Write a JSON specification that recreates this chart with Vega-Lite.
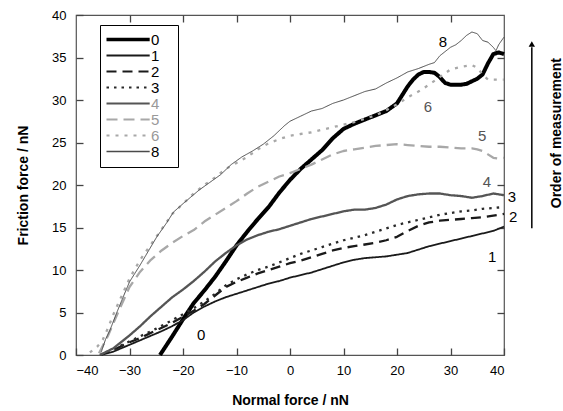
{
  "$schema": "https://vega.github.io/schema/vega-lite/v6.json",
  "width": 428,
  "height": 340,
  "autosize": "none",
  "padding": {"left": 76, "top": 15, "right": 59, "bottom": 56},
  "background": "white",
  "config": {
    "font": "Liberation Sans",
    "view": {"stroke": "#555", "strokeWidth": 1.2},
    "axis": {"grid": false, "domain": false, "ticks": true, "tickColor": "#444", "tickWidth": 1.3, "tickSize": 7, "offset": -7, "labelColor": "black", "labelFontSize": 13, "titleFontSize": 14, "titleFontWeight": "bold", "titleColor": "black"}
  },
  "datasets": {
    "curves": [
      {"s":"0","x":-24.3,"y":0},{"s":"0","x":-22,"y":2.2},{"s":"0","x":-20,"y":4.2},{"s":"0","x":-18,"y":6.1},{"s":"0","x":-16,"y":7.6},{"s":"0","x":-14,"y":9.2},{"s":"0","x":-12,"y":11.0},{"s":"0","x":-10,"y":12.9},{"s":"0","x":-8,"y":14.5},{"s":"0","x":-6,"y":16.0},{"s":"0","x":-4,"y":17.4},{"s":"0","x":-2,"y":19.1},{"s":"0","x":0,"y":20.6},{"s":"0","x":2,"y":21.9},{"s":"0","x":4,"y":23.0},{"s":"0","x":6,"y":24.1},{"s":"0","x":8,"y":25.5},{"s":"0","x":10,"y":26.6},{"s":"0","x":12,"y":27.2},{"s":"0","x":14,"y":27.7},{"s":"0","x":16,"y":28.2},{"s":"0","x":18,"y":28.7},{"s":"0","x":20,"y":29.6},{"s":"0","x":21,"y":30.6},{"s":"0","x":22,"y":31.6},{"s":"0","x":23,"y":32.4},{"s":"0","x":24,"y":33.0},{"s":"0","x":25,"y":33.3},{"s":"0","x":26,"y":33.3},{"s":"0","x":27,"y":33.2},{"s":"0","x":28,"y":32.7},{"s":"0","x":29,"y":32.0},{"s":"0","x":30,"y":31.8},{"s":"0","x":31,"y":31.8},{"s":"0","x":32,"y":31.8},{"s":"0","x":33,"y":31.9},{"s":"0","x":34,"y":32.2},{"s":"0","x":35,"y":32.5},{"s":"0","x":36,"y":33.0},{"s":"0","x":37,"y":34.3},{"s":"0","x":38,"y":35.4},{"s":"0","x":39,"y":35.6},{"s":"0","x":40,"y":35.4},
      {"s":"1","x":-35.5,"y":0},{"s":"1","x":-33,"y":0.4},{"s":"1","x":-30,"y":1.2},{"s":"1","x":-27,"y":2.0},{"s":"1","x":-24,"y":2.8},{"s":"1","x":-22,"y":3.4},{"s":"1","x":-20,"y":4.1},{"s":"1","x":-18,"y":5.0},{"s":"1","x":-16,"y":5.7},{"s":"1","x":-14,"y":6.3},{"s":"1","x":-12,"y":6.8},{"s":"1","x":-10,"y":7.2},{"s":"1","x":-8,"y":7.6},{"s":"1","x":-6,"y":8.0},{"s":"1","x":-4,"y":8.4},{"s":"1","x":-2,"y":8.7},{"s":"1","x":0,"y":9.1},{"s":"1","x":2,"y":9.4},{"s":"1","x":4,"y":9.7},{"s":"1","x":6,"y":10.1},{"s":"1","x":8,"y":10.5},{"s":"1","x":10,"y":10.9},{"s":"1","x":12,"y":11.2},{"s":"1","x":14,"y":11.4},{"s":"1","x":16,"y":11.5},{"s":"1","x":18,"y":11.6},{"s":"1","x":20,"y":11.8},{"s":"1","x":22,"y":12.0},{"s":"1","x":24,"y":12.4},{"s":"1","x":26,"y":12.8},{"s":"1","x":28,"y":13.1},{"s":"1","x":30,"y":13.4},{"s":"1","x":32,"y":13.7},{"s":"1","x":34,"y":14.0},{"s":"1","x":36,"y":14.3},{"s":"1","x":38,"y":14.6},{"s":"1","x":40,"y":15.1},
      {"s":"2","x":-35.5,"y":0},{"s":"2","x":-33,"y":0.6},{"s":"2","x":-30,"y":1.5},{"s":"2","x":-28,"y":2.0},{"s":"2","x":-25,"y":2.9},{"s":"2","x":-22,"y":3.8},{"s":"2","x":-20,"y":4.5},{"s":"2","x":-18,"y":5.2},{"s":"2","x":-16,"y":6.0},{"s":"2","x":-14,"y":7.0},{"s":"2","x":-12,"y":8.0},{"s":"2","x":-10,"y":8.6},{"s":"2","x":-8,"y":9.1},{"s":"2","x":-6,"y":9.6},{"s":"2","x":-4,"y":10.0},{"s":"2","x":-2,"y":10.4},{"s":"2","x":0,"y":10.8},{"s":"2","x":2,"y":11.1},{"s":"2","x":4,"y":11.5},{"s":"2","x":6,"y":11.9},{"s":"2","x":8,"y":12.3},{"s":"2","x":10,"y":12.6},{"s":"2","x":12,"y":12.8},{"s":"2","x":14,"y":13.0},{"s":"2","x":16,"y":13.2},{"s":"2","x":18,"y":13.5},{"s":"2","x":20,"y":13.9},{"s":"2","x":22,"y":14.6},{"s":"2","x":24,"y":15.2},{"s":"2","x":26,"y":15.6},{"s":"2","x":28,"y":15.8},{"s":"2","x":30,"y":15.9},{"s":"2","x":32,"y":16.0},{"s":"2","x":34,"y":16.1},{"s":"2","x":36,"y":16.2},{"s":"2","x":38,"y":16.4},{"s":"2","x":40,"y":16.6},
      {"s":"3","x":-35.5,"y":0},{"s":"3","x":-33,"y":0.7},{"s":"3","x":-30,"y":1.6},{"s":"3","x":-28,"y":2.2},{"s":"3","x":-25,"y":3.1},{"s":"3","x":-22,"y":4.1},{"s":"3","x":-20,"y":4.8},{"s":"3","x":-18,"y":5.5},{"s":"3","x":-16,"y":6.3},{"s":"3","x":-14,"y":7.2},{"s":"3","x":-12,"y":8.2},{"s":"3","x":-10,"y":8.9},{"s":"3","x":-8,"y":9.5},{"s":"3","x":-6,"y":10.0},{"s":"3","x":-4,"y":10.4},{"s":"3","x":-2,"y":10.9},{"s":"3","x":0,"y":11.4},{"s":"3","x":2,"y":11.9},{"s":"3","x":4,"y":12.3},{"s":"3","x":6,"y":12.7},{"s":"3","x":8,"y":13.1},{"s":"3","x":10,"y":13.5},{"s":"3","x":12,"y":13.8},{"s":"3","x":14,"y":14.1},{"s":"3","x":16,"y":14.5},{"s":"3","x":18,"y":14.9},{"s":"3","x":20,"y":15.3},{"s":"3","x":22,"y":15.6},{"s":"3","x":24,"y":15.9},{"s":"3","x":26,"y":16.2},{"s":"3","x":28,"y":16.5},{"s":"3","x":30,"y":16.7},{"s":"3","x":32,"y":16.9},{"s":"3","x":34,"y":17.0},{"s":"3","x":36,"y":17.2},{"s":"3","x":38,"y":17.3},{"s":"3","x":40,"y":17.4},
      {"s":"4","x":-35.5,"y":0},{"s":"4","x":-33,"y":0.8},{"s":"4","x":-30,"y":2.3},{"s":"4","x":-28,"y":3.4},{"s":"4","x":-26,"y":4.6},{"s":"4","x":-24,"y":5.7},{"s":"4","x":-22,"y":6.8},{"s":"4","x":-20,"y":7.7},{"s":"4","x":-18,"y":8.7},{"s":"4","x":-16,"y":9.8},{"s":"4","x":-14,"y":11.0},{"s":"4","x":-12,"y":12.0},{"s":"4","x":-10,"y":12.9},{"s":"4","x":-8,"y":13.6},{"s":"4","x":-6,"y":14.1},{"s":"4","x":-4,"y":14.5},{"s":"4","x":-2,"y":14.8},{"s":"4","x":0,"y":15.2},{"s":"4","x":2,"y":15.6},{"s":"4","x":4,"y":16.0},{"s":"4","x":6,"y":16.3},{"s":"4","x":8,"y":16.6},{"s":"4","x":10,"y":16.9},{"s":"4","x":12,"y":17.1},{"s":"4","x":14,"y":17.1},{"s":"4","x":16,"y":17.3},{"s":"4","x":18,"y":17.7},{"s":"4","x":20,"y":18.3},{"s":"4","x":22,"y":18.7},{"s":"4","x":24,"y":18.9},{"s":"4","x":26,"y":19.0},{"s":"4","x":28,"y":19.0},{"s":"4","x":30,"y":18.8},{"s":"4","x":32,"y":18.7},{"s":"4","x":34,"y":18.5},{"s":"4","x":36,"y":18.7},{"s":"4","x":38,"y":19.0},{"s":"4","x":40,"y":18.8},
      {"s":"5","x":-35.7,"y":0.2},{"s":"5","x":-34,"y":2.3},{"s":"5","x":-32,"y":5.2},{"s":"5","x":-30,"y":8.0},{"s":"5","x":-28,"y":9.8},{"s":"5","x":-26,"y":11.2},{"s":"5","x":-24,"y":12.3},{"s":"5","x":-22,"y":13.2},{"s":"5","x":-20,"y":14.0},{"s":"5","x":-18,"y":14.7},{"s":"5","x":-16,"y":15.7},{"s":"5","x":-14,"y":16.5},{"s":"5","x":-12,"y":17.3},{"s":"5","x":-10,"y":18.1},{"s":"5","x":-8,"y":19.0},{"s":"5","x":-6,"y":19.8},{"s":"5","x":-4,"y":20.4},{"s":"5","x":-2,"y":21.0},{"s":"5","x":0,"y":21.4},{"s":"5","x":2,"y":21.9},{"s":"5","x":4,"y":22.4},{"s":"5","x":6,"y":23.0},{"s":"5","x":8,"y":23.6},{"s":"5","x":10,"y":24.0},{"s":"5","x":12,"y":24.2},{"s":"5","x":14,"y":24.4},{"s":"5","x":16,"y":24.6},{"s":"5","x":18,"y":24.7},{"s":"5","x":20,"y":24.8},{"s":"5","x":22,"y":24.7},{"s":"5","x":24,"y":24.6},{"s":"5","x":26,"y":24.5},{"s":"5","x":28,"y":24.5},{"s":"5","x":30,"y":24.4},{"s":"5","x":32,"y":24.3},{"s":"5","x":34,"y":24.3},{"s":"5","x":35,"y":24.2},{"s":"5","x":36,"y":24.0},{"s":"5","x":37,"y":23.6},{"s":"5","x":38,"y":23.2},{"s":"5","x":39,"y":23.1},{"s":"5","x":40,"y":23.2},
      {"s":"6","x":-37.4,"y":0.3},{"s":"6","x":-36,"y":1.0},{"s":"6","x":-35,"y":1.8},{"s":"6","x":-34,"y":3.2},{"s":"6","x":-33,"y":4.8},{"s":"6","x":-32,"y":6.2},{"s":"6","x":-31,"y":7.6},{"s":"6","x":-30,"y":9.0},{"s":"6","x":-28,"y":11.2},{"s":"6","x":-26,"y":13.0},{"s":"6","x":-24,"y":14.8},{"s":"6","x":-22,"y":16.6},{"s":"6","x":-20,"y":17.8},{"s":"6","x":-18,"y":19.0},{"s":"6","x":-16,"y":20.0},{"s":"6","x":-14,"y":20.9},{"s":"6","x":-12,"y":21.9},{"s":"6","x":-10,"y":22.6},{"s":"6","x":-8,"y":23.3},{"s":"6","x":-6,"y":24.2},{"s":"6","x":-4,"y":24.9},{"s":"6","x":-2,"y":25.4},{"s":"6","x":0,"y":25.8},{"s":"6","x":2,"y":26.0},{"s":"6","x":4,"y":26.2},{"s":"6","x":6,"y":26.5},{"s":"6","x":8,"y":26.8},{"s":"6","x":10,"y":27.1},{"s":"6","x":12,"y":27.4},{"s":"6","x":14,"y":27.8},{"s":"6","x":16,"y":28.2},{"s":"6","x":18,"y":28.8},{"s":"6","x":20,"y":29.5},{"s":"6","x":22,"y":30.3},{"s":"6","x":24,"y":31.0},{"s":"6","x":26,"y":31.8},{"s":"6","x":28,"y":32.7},{"s":"6","x":30,"y":33.6},{"s":"6","x":32,"y":33.9},{"s":"6","x":34,"y":34.1},{"s":"6","x":35,"y":33.8},{"s":"6","x":36,"y":33.0},{"s":"6","x":37,"y":32.4},{"s":"6","x":38,"y":32.4},{"s":"6","x":40,"y":32.4},
      {"s":"8","x":-35.3,"y":0.3},{"s":"8","x":-34.5,"y":1.8},{"s":"8","x":-33.6,"y":3.0},{"s":"8","x":-32.5,"y":4.8},{"s":"8","x":-31.2,"y":6.8},{"s":"8","x":-30,"y":8.6},{"s":"8","x":-28,"y":10.6},{"s":"8","x":-26.5,"y":12.2},{"s":"8","x":-24.9,"y":13.9},{"s":"8","x":-23,"y":15.6},{"s":"8","x":-21.8,"y":16.8},{"s":"8","x":-20,"y":17.8},{"s":"8","x":-17,"y":19.4},{"s":"8","x":-15,"y":20.3},{"s":"8","x":-13,"y":21.2},{"s":"8","x":-11,"y":22.4},{"s":"8","x":-9,"y":23.3},{"s":"8","x":-7,"y":24.0},{"s":"8","x":-5,"y":24.8},{"s":"8","x":-3,"y":25.8},{"s":"8","x":-1,"y":27.0},{"s":"8","x":0,"y":27.5},{"s":"8","x":2,"y":28.1},{"s":"8","x":4,"y":28.7},{"s":"8","x":6,"y":29.0},{"s":"8","x":8,"y":29.6},{"s":"8","x":10,"y":30.0},{"s":"8","x":12,"y":30.5},{"s":"8","x":14,"y":31.0},{"s":"8","x":16,"y":31.3},{"s":"8","x":18,"y":32.0},{"s":"8","x":20,"y":32.6},{"s":"8","x":22,"y":33.3},{"s":"8","x":24,"y":33.7},{"s":"8","x":26,"y":34.2},{"s":"8","x":27,"y":34.4},{"s":"8","x":28,"y":35.2},{"s":"8","x":30,"y":36.2},{"s":"8","x":31,"y":36.5},{"s":"8","x":32,"y":37.0},{"s":"8","x":33,"y":37.6},{"s":"8","x":34,"y":38.0},{"s":"8","x":35,"y":37.8},{"s":"8","x":36,"y":37.0},{"s":"8","x":37,"y":36.8},{"s":"8","x":38,"y":36.2},{"s":"8","x":38.5,"y":35.8},{"s":"8","x":39,"y":36.5},{"s":"8","x":40,"y":37.4}
    ],
    "labels": [
      {"label":"0","x":-16.6,"y":2.4},
      {"label":"1","x":37.8,"y":11.5},
      {"label":"2","x":41.7,"y":16.2},
      {"label":"3","x":41.5,"y":18.6},
      {"label":"4","x":36.8,"y":20.4},
      {"label":"5","x":35.9,"y":25.8},
      {"label":"6","x":25.8,"y":29.2},
      {"label":"8","x":28.6,"y":36.8}
    ],
    "arrow": [
      {"x": 45.2, "y0": 14.9, "y1": 36.2, "tip": 36.6, "tx": 49.9, "ty": 26.1, "text": "Order of measurement"}
    ]
  },
  "resolve": {"axis": {"x": "independent", "y": "independent"}},
  "layer": [
    {
      "data": {"name": "curves"},
      "mark": {"type": "line", "strokeCap": "butt", "strokeJoin": "round"},
      "encoding": {
        "x": {"field": "x", "type": "quantitative", "scale": {"domain": [-40, 40], "nice": false},
          "axis": {"orient": "bottom", "values": [-40, -30, -20, -10, 0, 10, 20, 30, 40], "labelPadding": 9, "title": "Normal force / nN", "titlePadding": 16}},
        "y": {"field": "y", "type": "quantitative", "scale": {"domain": [0, 40], "nice": false},
          "axis": {"orient": "left", "values": [0, 5, 10, 15, 20, 25, 30, 35, 40], "labelPadding": 10, "title": "Friction force / nN", "titlePadding": 21}},
        "color": {"field": "s", "type": "nominal",
          "scale": {"domain": ["0", "1", "2", "3", "4", "5", "6", "8"], "range": ["#000000", "#1a1a1a", "#1a1a1a", "#2a2a2a", "#555555", "#a8a8a8", "#a8a8a8", "#4a4a4a"]},
          "legend": {
            "title": null, "orient": "none", "legendX": 24, "legendY": 10,
            "strokeColor": "black", "fillColor": "white", "padding": 7, "rowPadding": 0,
            "symbolType": "M-1,0H4.4", "symbolSize": 256, "labelOffset": 29,
            "labelFontSize": 15, "labelColor": "black",
            "encode": {
              "symbols": {"update": {"strokeWidth": {"signal": "datum.value === '0' ? 3.5 : datum.value === '8' ? 1.6 : 2"}}},
              "labels": {"update": {
                "text": {"signal": "datum.label + '\u2800'"},
                "fill": {"signal": "indexof(['4','5','6'], datum.value) >= 0 ? '#999999' : 'black'"}}}
            }
          }},
        "strokeDash": {"field": "s", "type": "nominal",
          "scale": {"domain": ["0", "1", "2", "3", "4", "5", "6", "8"], "range": [[1, 0], [1, 0], [10, 6], [2.5, 5], [1, 0], [11, 6], [3, 6], [1, 0]]},
          "legend": {"title": null, "orient": "none", "legendX": 24, "legendY": 10}},
        "strokeWidth": {
          "condition": [
            {"test": "datum.s === '0'", "value": 4},
            {"test": "datum.s === '8'", "value": 1},
            {"test": "datum.s === '1'", "value": 1.8}
          ],
          "value": 2.3}
      }
    },
    {
      "data": {"name": "labels"},
      "mark": {"type": "text", "fontSize": 15, "align": "center", "baseline": "middle"},
      "encoding": {
        "x": {"field": "x", "type": "quantitative", "scale": {"domain": [-40, 40], "nice": false},
          "axis": {"orient": "top", "values": [-30, -20, -10, 0, 10, 20, 30], "labels": false, "title": null}},
        "y": {"field": "y", "type": "quantitative", "scale": {"domain": [0, 40], "nice": false},
          "axis": {"orient": "right", "values": [5, 10, 15, 20, 25, 30, 35], "labels": false, "title": null}},
        "text": {"field": "label"},
        "color": {"condition": {"test": "indexof(['4','5','6'], datum.label) >= 0", "value": "#555555"}, "value": "black"}
      }
    },
    {
      "data": {"name": "arrow"},
      "mark": {"type": "rule", "strokeWidth": 1.5, "color": "black"},
      "encoding": {
        "x": {"field": "x", "type": "quantitative", "axis": null},
        "y": {"field": "y0", "type": "quantitative", "axis": null},
        "y2": {"field": "y1"}
      }
    },
    {
      "data": {"name": "arrow"},
      "mark": {"type": "point", "shape": "triangle-up", "filled": true, "color": "black", "size": 40, "opacity": 1},
      "encoding": {
        "x": {"field": "x", "type": "quantitative", "axis": null},
        "y": {"field": "tip", "type": "quantitative", "axis": null}
      }
    },
    {
      "data": {"name": "arrow"},
      "mark": {"type": "text", "angle": 270, "fontSize": 14, "fontWeight": "bold", "align": "center", "baseline": "middle", "color": "black"},
      "encoding": {
        "x": {"field": "tx", "type": "quantitative", "axis": null},
        "y": {"field": "ty", "type": "quantitative", "axis": null},
        "text": {"field": "text"}
      }
    }
  ]
}
